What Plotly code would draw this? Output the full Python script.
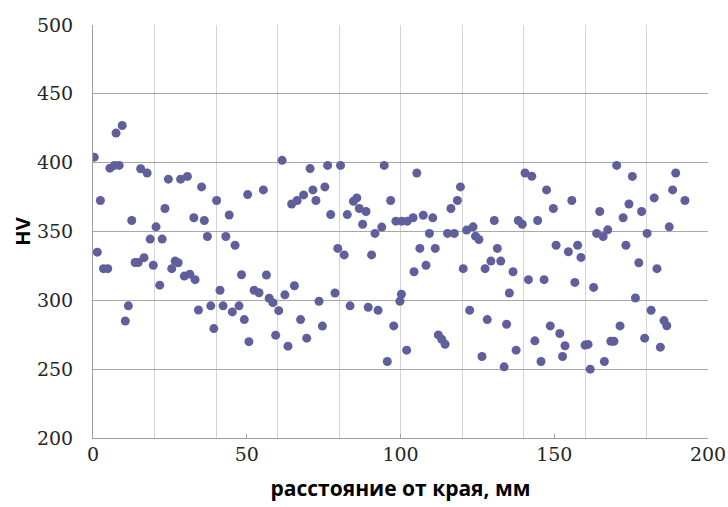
import plotly.graph_objects as go

distance_mm = [
    0.4, 1.4, 2.4, 3.4, 4.8, 5.5, 7.0, 7.5, 8.5, 9.5,
    10.5, 11.5, 12.6, 13.7, 14.7, 15.5, 16.6, 17.6, 18.6, 19.6,
    20.5, 21.7, 22.5, 23.4, 24.5, 25.6, 26.7, 27.7, 28.5, 29.7,
    30.7, 31.5, 32.8, 33.2, 34.3, 35.3, 36.2, 37.2, 38.3, 39.3,
    40.2, 41.3, 42.3, 43.2, 44.3, 45.3, 46.2, 47.5, 48.3, 49.2,
    50.3, 50.7, 52.4, 54.0, 55.4, 56.4, 57.3, 58.5, 59.4, 60.4,
    61.5, 62.4, 63.4, 64.6, 65.5, 66.4, 67.5, 68.5, 69.5, 70.6,
    71.5, 72.5, 73.5, 74.6, 75.4, 76.3, 77.3, 78.7, 79.6, 80.5,
    81.7, 82.7, 83.6, 84.7, 85.8, 86.6, 87.7, 88.8, 89.5, 90.6,
    91.7, 92.7, 93.9, 94.7, 95.7, 96.8, 97.8, 98.5, 99.8, 100.3,
    100.4, 102.0, 102.2, 104.1, 104.4, 105.3, 106.3, 107.4, 108.3, 109.4,
    110.5, 111.3, 112.3, 113.4, 114.5, 115.3, 116.4, 117.5, 118.5, 119.5,
    120.4, 121.5, 122.5, 123.6, 124.4, 125.5, 126.5, 127.5, 128.2, 129.4,
    130.5, 131.5, 132.6, 133.7, 134.5, 135.4, 136.6, 137.6, 138.3, 139.6,
    140.5, 141.6, 142.7, 143.7, 144.6, 145.7, 146.7, 147.5, 148.7, 149.7,
    150.6, 151.8, 152.7, 153.5, 154.6, 155.7, 156.7, 157.6, 158.7, 160.0,
    161.0, 161.7, 162.8, 163.8, 164.8, 165.9, 166.3, 167.4, 168.4, 169.4,
    170.3, 171.4, 172.4, 173.3, 174.3, 175.4, 176.4, 177.5, 178.4, 179.4,
    180.2, 181.5, 182.5, 183.4, 184.5, 185.7, 186.6, 187.4, 188.5, 189.5,
    192.5,
]

hardness_hv = [
    404, 335, 372.5, 323, 323, 396, 398, 421.5, 398, 427,
    285, 296, 358, 327.5, 327.5, 395.6, 331, 392.5, 344.5, 325.5,
    353.4, 311, 344.5, 366.7, 388, 323, 328.5, 327.3, 388, 317.6,
    390, 319, 360, 315, 293, 382.4, 358, 346.4, 296, 279.5,
    372.5, 307.3, 296, 346.4, 362, 291.6, 340, 296, 318.6, 286,
    376.8, 270, 307.3, 305.5, 380.2, 318.4, 301.5, 298.3, 274.7, 292.5,
    401.7, 304, 266.7, 370, 310.6, 372.5, 286, 376.6, 272.5, 395.7,
    380.2, 372.5, 299.3, 281.3, 382.4, 398, 362.3, 305.3, 337.7, 398,
    333, 362.3, 296, 372, 374.4, 366.7, 355.3, 364.5, 295, 333,
    348.6, 292.8, 353.2, 398, 255.6, 372.5, 281.4, 357.5, 299.3, 304.4,
    357.5, 263.8, 357.5, 360, 320.8, 392.5, 337.7, 361.8, 325.4, 348.6,
    359.9, 337.7, 274.9, 271.7, 268.1, 348.6, 366.7, 348.6, 372.5, 382.4,
    323, 351, 292.8, 353.4, 346.6, 344.2, 259.2, 323, 286, 328.5,
    358, 337.7, 328.5, 251.7, 282.6, 305.3, 320.8, 263.8, 358, 355.3,
    392.5, 315, 390.1, 270.6, 358, 255.6, 315, 380.2, 281.4, 366.7,
    340, 275.9, 259.2, 267, 335.3, 372.5, 313, 340, 331.2, 267.5,
    268, 250, 309.4, 348.6, 364.5, 346.4, 255.6, 351.2, 270.3, 270.3,
    398, 281.4, 360, 340, 370, 390, 301.7, 327.3, 364.5, 272.5,
    348.6, 292.8, 374.4, 323, 266, 285.3, 281.5, 353.4, 380.2, 392.5,
    372.5,
]

x_range = [0, 200]
y_range = [200, 500]
x_title = "расстояние от края, мм"
y_title = "HV"

fig = go.Figure()
fig.add_trace(go.Scatter(
    x=distance_mm, y=hardness_hv, mode="markers",
    marker=dict(size=9, color="#5f5f9c", line=dict(width=0)),
    showlegend=False, hoverinfo="x+y",
))
# axis carrying tick labels (overlay)
fig.add_trace(go.Scatter(x=[], y=[], xaxis="x2", showlegend=False))

tick_font = dict(family="DejaVu Serif", size=19, color="#262626")
title_font = dict(family="Open Sans", size=20, color="#000000")
x_title_font = dict(family="Open Sans", size=21, color="#000000")

fig.update_layout(
    width=728, height=507,
    margin=dict(l=93, r=20, t=25, b=69),
    paper_bgcolor="white", plot_bgcolor="white",
    xaxis=dict(
        range=x_range, dtick=20, tick0=0, showgrid=True, gridcolor="#d4d4d4",
        gridwidth=1, showticklabels=False, ticks="", zeroline=False,
        showline=True, linecolor="#9e9e9e", linewidth=1, automargin=False,
    ),
    xaxis2=dict(
        range=x_range, overlaying="x", side="bottom", dtick=50, tick0=0,
        showgrid=False, zeroline=False, showline=False,
        ticks="inside", ticklen=4, tickcolor="#9e9e9e",
        tickfont=tick_font, ticklabelstandoff=3, automargin=False,
        title=dict(text="<b>" + x_title + "</b>", font=x_title_font, standoff=17),
    ),
    yaxis=dict(
        range=y_range, dtick=50, tick0=200, showgrid=True, gridcolor="#a8a8a8",
        gridwidth=1, zeroline=False, showline=True, linecolor="#9e9e9e",
        ticks="", tickfont=tick_font, ticklabelstandoff=15, automargin=False,
        title=dict(text="<b>" + y_title + "</b>", font=title_font, standoff=0),
    ),
)

fig.write_html("out.html", config={"displayModeBar": False},
               post_script="document.body.style.margin='0';")
